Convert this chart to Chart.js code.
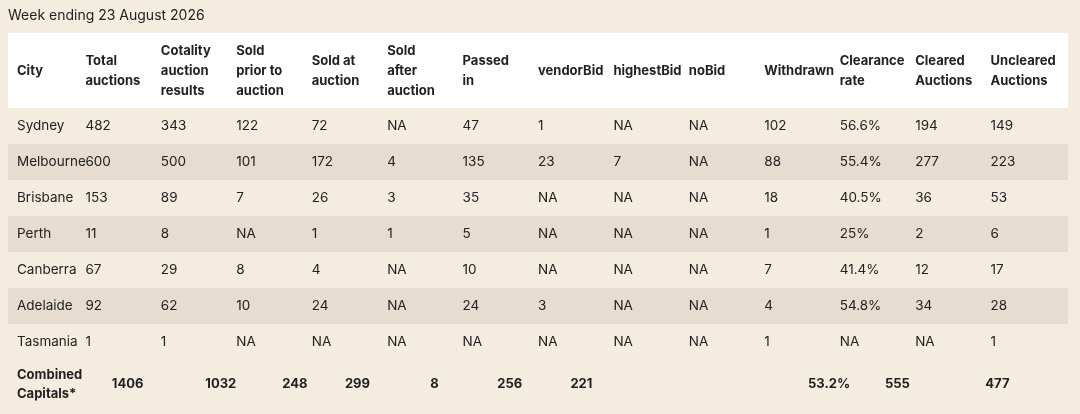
<!DOCTYPE html>
<html>
<head>
<meta charset="utf-8">
<script src="https://cdn.jsdelivr.net/npm/chart.js@4"></script>
<style>
  body { margin: 0; background: #f5ece0; }
  canvas { display: block; }
</style>
</head>
<body>
<canvas id="table" width="1080" height="414"></canvas>
<script>
var title = "Week ending 23 August 2026";
var headers = [["City"], ["Total", "auctions"], ["Cotality", "auction", "results"], ["Sold", "prior to", "auction"],
    ["Sold at", "auction"], ["Sold", "after", "auction"], ["Passed", "in"], ["vendorBid"], ["highestBid"], ["noBid"],
    ["Withdrawn"], ["Clearance", "rate"], ["Cleared", "Auctions"], ["Uncleared", "Auctions"]];

var cities = ["Sydney", "Melbourne", "Brisbane", "Perth", "Canberra", "Adelaide", "Tasmania"];
var totalAuctions = ["482", "600", "153", "11", "67", "92", "1"];
var cotalityResults = ["343", "500", "89", "8", "29", "62", "1"];
var soldPrior = ["122", "101", "7", "NA", "8", "10", "NA"];
var soldAt = ["72", "172", "26", "1", "4", "24", "NA"];
var soldAfter = ["NA", "4", "3", "1", "NA", "NA", "NA"];
var passedIn = ["47", "135", "35", "5", "10", "24", "NA"];
var vendorBid = ["1", "23", "NA", "NA", "NA", "3", "NA"];
var highestBid = ["NA", "7", "NA", "NA", "NA", "NA", "NA"];
var noBid = ["NA", "NA", "NA", "NA", "NA", "NA", "NA"];
var withdrawn = ["102", "88", "18", "1", "7", "4", "1"];
var clearanceRate = ["56.6%", "55.4%", "40.5%", "25%", "41.4%", "54.8%", "NA"];
var cleared = ["194", "277", "36", "2", "12", "34", "NA"];
var uncleared = ["149", "223", "53", "6", "17", "28", "1"];

// combined row: column each value belongs to, the value, and how far it sits off that column
var combinedLabel = ["Combined", "Capitals*"];
var combinedCols = [1, 2, 3, 4, 6, 7, 8, 11, 12, 13];
var combinedVals = ["1406", "1032", "248", "299", "8", "256", "221", "53.2%", "555", "477"];
var combinedShift = [0.35, 0.59, 0.61, 0.44, -0.43, -0.54, -0.57, -0.42, -0.4, -0.07];

var columns = [cities, totalAuctions, cotalityResults, soldPrior, soldAt, soldAfter, passedIn,
    vendorBid, highestBid, noBid, withdrawn, clearanceRate, cleared, uncleared];
var rowLabels = cities.concat(["Combined"]);
var colLabels = headers.map(function (h) { return h.join(" "); });

var FONT = "'Inter', 'Liberation Sans', Arial, sans-serif";

var tablePlugin = {
    id: "tablePlugin",
    beforeDraw: function (chart) {
        var ctx = chart.ctx;
        var xs = chart.scales.x, ys = chart.scales.y;
        var step = xs.width / colLabels.length;
        var rowH = ys.height / rowLabels.length;
        var left = 8, right = 1068;
        function colX(j) { return j === 0 ? 17 : xs.getPixelForValue(j) - step / 2 + 10; }
        ctx.save();
        ctx.fillStyle = "#f5ece0";
        ctx.fillRect(0, 0, chart.width, chart.height);

        ctx.fillStyle = "#222";
        ctx.font = "14px " + FONT;
        ctx.textBaseline = "middle";
        ctx.fillText(title, 8, 16);

        // header band
        ctx.fillStyle = "#ffffff";
        ctx.fillRect(left, 33, right - left, ys.top - 33);
        ctx.fillStyle = "#222";
        ctx.font = "bold 13px " + FONT;
        headers.forEach(function (lines, j) {
            var y0 = 71 - (lines.length - 1) * 10;
            lines.forEach(function (t, k) { ctx.fillText(t, colX(j), y0 + k * 20); });
        });

        // body rows
        ctx.font = "13.5px " + FONT;
        cities.forEach(function (c, i) {
            var yc = ys.getPixelForValue(i);
            if (i % 2 === 1) {
                ctx.fillStyle = "#e6dcd0";
                ctx.fillRect(left, yc - rowH / 2, right - left, rowH);
            }
            ctx.fillStyle = "#222";
            columns.forEach(function (col, j) {
                ctx.fillText(col[i], colX(j), yc);
            });
        });

        // combined row
        var yc = ys.getPixelForValue(cities.length) + 6;
        ctx.font = "bold 13px " + FONT;
        ctx.fillText(combinedLabel[0], 17, yc - 9);
        ctx.fillText(combinedLabel[1], 17, yc + 10);
        combinedVals.forEach(function (v, k) {
            ctx.fillText(v, xs.getPixelForValue(combinedCols[k] + combinedShift[k]) - step / 2 + 10, yc);
        });
        ctx.restore();
    }
};

new Chart(document.getElementById("table"), {
    type: "bar",
    data: { labels: colLabels, datasets: [{ data: [] }] },
    options: {
        responsive: false,
        animation: false,
        devicePixelRatio: 1,
        layout: { padding: { top: 108, bottom: 18, left: 0, right: 24 } },
        plugins: { legend: { display: false }, tooltip: { enabled: false } },
        scales: {
            x: { type: "category", labels: colLabels, display: false, offset: true },
            y: { type: "category", labels: rowLabels, display: false, offset: true }
        }
    },
    plugins: [tablePlugin]
});
</script>
</body>
</html>
